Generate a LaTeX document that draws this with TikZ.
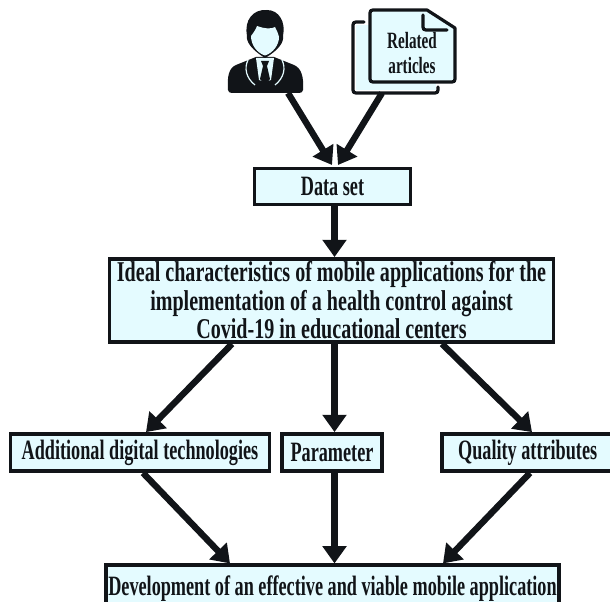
\documentclass[tikz,border=0pt]{standalone}
\usepackage{fontspec}
\setmainfont{Liberation Serif}[FakeStretch=0.65]
\newfontfamily\widefont{Liberation Serif}[FakeStretch=0.7]
\usetikzlibrary{arrows.meta}
\definecolor{boxfill}{HTML}{E4FBFF}
\definecolor{ink}{HTML}{111418}
\tikzset{
  box/.style={draw=ink,line width=2.6pt,fill=boxfill,inner sep=0pt,align=center,text=ink,font=\bfseries\fontsize{21}{20.5}\selectfont},
  arrow/.style={draw=ink,line width=4.8pt,-{Triangle[length=13pt,width=17.5pt]},shorten >=0pt},
  outline/.style={draw=ink,line width=2.4pt,line join=round,line cap=round}
}
\begin{document}
\begin{tikzpicture}[x=0.75pt,y=-0.75pt]
\useasboundingbox (0,0) rectangle (610,602);
\clip (0,0) rectangle (610,602);
% boxes
\node[box,minimum width=117pt,minimum height=27pt] (data) at (332.5,186.5) {Data set};
\node[box,minimum width=333pt,minimum height=62.5pt,font=\widefont\bfseries\fontsize{21.5}{21.4}\selectfont] (main) at (331.5,300.5) {Ideal characteristics of mobile applications for the\\implementation of a health control against\\Covid-19 in educational centers};
\node[box,minimum width=194pt,minimum height=28pt] (add) at (140,452.5) {Additional digital technologies};
\node[box,minimum width=75pt,minimum height=28pt] (par) at (332,452.5) {Parameter};
\node[box,minimum width=141pt,minimum height=28pt] (qual) at (536,452.5) {Quality attributes\hspace*{12.5pt}};
\node[box,minimum width=340pt,minimum height=35pt] (dev) at (332.5,588.5) {\raisebox{5pt}{Development of an effective and viable mobile application}};
% person icon
\fill[ink] (228,90) .. controls (227,76) and (229,68) .. (236,65)
  -- (256,57) -- (274,57) -- (294,65) .. controls (301,68) and (304,76) .. (303,90)
  .. controls (303,92) and (301,93) .. (299,93) -- (232,93) .. controls (230,93) and (228,92) .. (228,90) -- cycle;
\fill[boxfill] (256,58) -- (274,58) -- (271,80) -- (265,82) -- (259,80) -- cycle;
\fill[ink] (261,61) -- (269,61) -- (267,66) -- (270,79) -- (265,85) -- (260,79) -- (263,66) -- cycle;
\draw[boxfill,line width=0.9pt] (248,60) .. controls (244,68) and (246,78) .. (255,85);
\draw[boxfill,line width=0.9pt] (282,60) .. controls (286,68) and (284,78) .. (275,85);
\fill[ink] (247,36) .. controls (244,20) and (253,9) .. (267,10) .. controls (279,10) and (286,22) .. (283,36)
  .. controls (284,42) and (279,50) .. (265,58) .. controls (252,50) and (246,42) .. (247,36) -- cycle;
\fill[boxfill] (251,36) .. controls (254,32) and (256,29) .. (257,26) .. controls (265,29) and (272,29) .. (275,27)
  .. controls (277,31) and (278,33) .. (279,37) .. controls (279,45) and (273,53) .. (265,55.5) .. controls (257,53) and (251,45) .. (251,36) -- cycle;
\coordinate (personout) at (288,93);
% document icon
\fill[boxfill] (356,25) rectangle (436,90);
\draw[outline] (364,22) -- (356,22) .. controls (354,22) and (353,23) .. (353,25) -- (353,90)
  .. controls (353,92) and (354,93) .. (356,93) -- (435,93) .. controls (437,93) and (438,92) .. (438,90) -- (438,87);
\draw[outline,fill=boxfill] (373,10) -- (427,10) -- (455,28) -- (455,79) .. controls (455,81) and (454,82) .. (452,82)
  -- (373,82) .. controls (371,82) and (370,81) .. (370,79) -- (370,13) .. controls (370,11) and (371,10) .. (373,10) -- cycle;
\draw[outline] (423,15) -- (423,27) .. controls (423,29) and (424,30) .. (426,30) -- (447,30);
\node[font=\bfseries\fontsize{17.5}{19}\selectfont,text=ink,align=center,inner sep=0pt] (rel) at (412,53) {Related\\articles};
\coordinate (docout) at (382,93);
% connectors
\coordinate (din1) at (332,165);
\coordinate (din2) at (338,165);
\draw[arrow] (personout) -- (din1);
\draw[arrow] (docout) -- (din2);
\draw[arrow] (data.south -| 334.5,0) -- (main.north -| 334.5,0);
\draw[arrow] (main.south -| 232,0) -- (add.north -| 146,0);
\draw[arrow] (main.south -| 334.5,0) -- (par.north -| 334.5,0);
\draw[arrow] (main.south -| 442,0) -- (qual.north -| 532,0);
\draw[arrow] (add.south -| 143,0) -- (dev.north -| 230,0);
\draw[arrow] (par.south -| 334.5,0) -- (dev.north -| 334.5,0);
\draw[arrow] (qual.south -| 530,0) -- (dev.north -| 443,0);
\end{tikzpicture}
\end{document}
